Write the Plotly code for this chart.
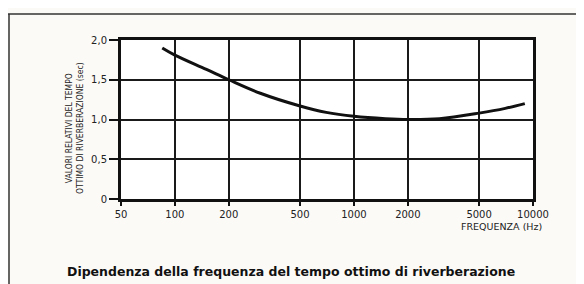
import plotly.graph_objects as go

freq = [85, 100, 150, 200, 300, 500, 700, 1000, 1500, 2000, 3000, 5000, 7000, 9000]
t_rel = [1.9, 1.81, 1.63, 1.5, 1.33, 1.17, 1.09, 1.04, 1.01, 1.0, 1.01, 1.08, 1.14, 1.2]

x_ticks = [50, 100, 200, 500, 1000, 2000, 5000, 10000]
x_labels = ["50", "100", "200", "500", "1000", "2000", "5000", "10000"]
y_ticks = [0, 0.5, 1.0, 1.5, 2.0]
y_labels = ["0", "0,5", "1,0", "1,5", "2,0"]

fig = go.Figure()
fig.add_trace(go.Scatter(x=freq, y=t_rel, mode="lines",
                         line=dict(color="#111111", width=3, shape="spline", smoothing=1.0),
                         showlegend=False, hoverinfo="skip"))

tickfont = dict(family="DejaVu Sans", size=10, color="#222222")
fig.update_xaxes(type="log", range=[1.69897, 4.0], tickvals=x_ticks, ticktext=x_labels,
                 showgrid=True, gridcolor="#1a1a1a", gridwidth=2,
                 showline=True, linecolor="#111111", linewidth=3, mirror=True,
                 ticks="outside", ticklen=4, tickwidth=2, tickcolor="#111111",
                 tickfont=tickfont, zeroline=False)
fig.update_yaxes(range=[0, 2.0], tickvals=y_ticks, ticktext=y_labels,
                 showgrid=True, gridcolor="#1a1a1a", gridwidth=2,
                 showline=True, linecolor="#111111", linewidth=3, mirror=True,
                 ticks="outside", ticklen=9, tickwidth=2, tickcolor="#111111",
                 tickfont=tickfont, zeroline=False)

# page is offset by the browser's 8px body margin
OFF = 8
PAGE_W, PAGE_H = 584, 284
W, H = PAGE_W - OFF, PAGE_H - OFF
PL, PR, PT, PB = 121, 533, 40, 199  # plot area in page pixels
L, R, T, B = PL - OFF, PAGE_W - PR, PT - OFF, PAGE_H - PB
pw, ph = PR - PL, PB - PT

def px(x):
    return (x - PL) / pw

def py(y):
    return (PB - y) / ph

shapes = [
    dict(type="line", xref="paper", yref="paper", x0=px(8), x1=px(584), y0=py(14), y1=py(14),
         line=dict(color="#333333", width=1.5)),
    dict(type="line", xref="paper", yref="paper", x0=px(9), x1=px(9), y0=py(14), y1=py(284),
         line=dict(color="#333333", width=1.5)),
]

annotations = [
    dict(text="VALORI RELATIVI DEL TEMPO<br>OTTIMO DI RIVERBERAZIONE (sec)",
         xref="paper", yref="paper", x=px(74), y=py(128), textangle=-90,
         showarrow=False, xanchor="center", yanchor="middle",
         font=dict(family="Liberation Sans Narrow, DejaVu Sans Condensed, sans-serif", size=8.5, color="#222222")),
    dict(text="FREQUENZA (Hz)", xref="paper", yref="paper", x=px(544), y=py(226),
         showarrow=False, xanchor="right", yanchor="middle",
         font=dict(family="DejaVu Sans", size=9.5, color="#222222")),
    dict(text="<b>Dipendenza della frequenza del tempo ottimo di riverberazione</b>",
         xref="paper", yref="paper", x=px(65), y=py(271),
         showarrow=False, xanchor="left", yanchor="middle",
         font=dict(family="DejaVu Sans", size=12.5, color="#111111")),
]

fig.update_layout(width=W, height=H, margin=dict(l=L, r=R, t=T, b=B),
                  paper_bgcolor="#fcfaf7", plot_bgcolor="#ffffff",
                  shapes=shapes, annotations=annotations)

fig.write_html("out.html")
